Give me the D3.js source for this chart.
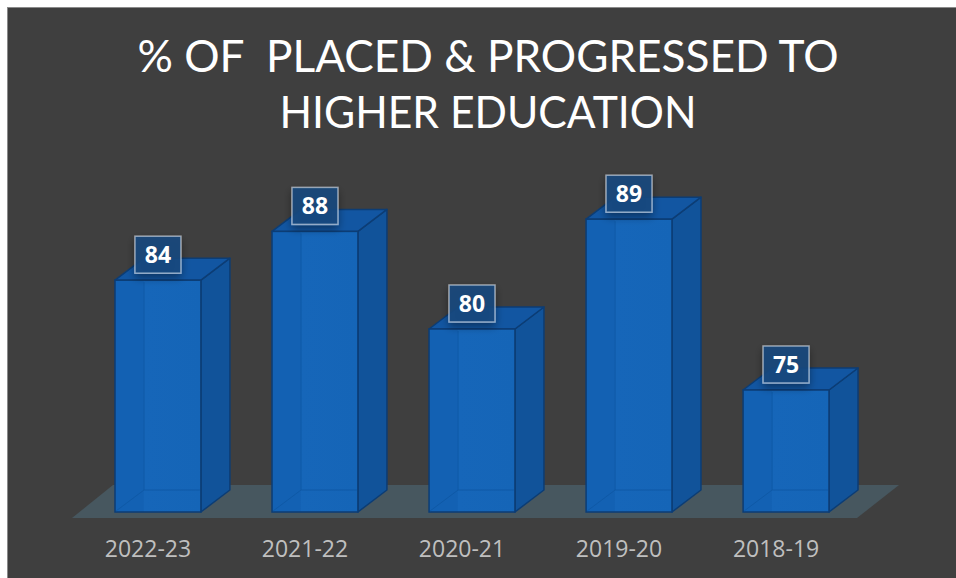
<!DOCTYPE html>
<html>
<head>
<meta charset="utf-8">
<script src="https://cdn.jsdelivr.net/npm/d3@7"></script>
<style>
  html, body { margin: 0; padding: 0; background: #fff; }
  svg { display: block; }
</style>
</head>
<body>
<svg width="956" height="578"></svg>
<script>
const years = ['2022-23', '2021-22', '2020-21', '2019-20', '2018-19'];
const percents = [84, 88, 80, 89, 75];
const titleLines = ['% OF  PLACED & PROGRESSED TO', 'HIGHER EDUCATION'];

const svg = d3.select('svg');
const width = +svg.attr('width');
const height = +svg.attr('height');

// 3d depth of the bars
const dx = 29;
const dy = -22;

// background panel
svg.append('rect')
    .attr('x', 7.5).attr('y', 7.5)
    .attr('width', width - 7).attr('height', height - 7)
    .attr('fill', '#3f3f3f')
    .attr('stroke', '#8a8a8a')
    .attr('stroke-width', 1);

// TITLE
svg.append('g')
    .selectAll('text')
    .data(titleLines)
    .join('text')
        .attr('x', 488)
        .attr('y', (d, i) => i === 0 ? 72 : 127.5)
        .attr('text-anchor', 'middle')
        .attr('textLength', (d, i) => i === 0 ? 701 : 417)
        .attr('lengthAdjust', 'spacingAndGlyphs')
        .style('white-space', 'pre')
        .attr('fill', '#ffffff')
        .attr('font-family', 'Lato, "Open Sans", sans-serif')
        .attr('font-size', 45)
        .text(d => d);

// SCALES
const x = d3.scaleBand()
    .domain(years)
    .range([115, 829])
    .paddingInner(0.453)
    .paddingOuter(0);
const y = d3.scaleLinear()
    .domain([65, 90])
    .range([512, 207]);

const base = y.range()[0];
const [x0, x1] = x.range();

// FLOOR
const floorPts = [
    [x0 - 43, base + 6],
    [x1 + 28, base + 6],
    [x1 + 70, base - 27],
    [x0 - 2, base - 27],
];
svg.append('polygon')
    .attr('points', floorPts.map(p => p.join(',')).join(' '))
    .attr('fill', '#47575f');

// gradient for front faces
const defs = svg.append('defs');
const grad = defs.append('linearGradient').attr('id', 'front')
    .attr('x1', 0).attr('x2', 1).attr('y1', 0).attr('y2', 0);
grad.append('stop').attr('offset', '0%').attr('stop-color', '#1361b3');
grad.append('stop').attr('offset', '33%').attr('stop-color', '#1361b3');
grad.append('stop').attr('offset', '34%').attr('stop-color', '#1666b9');
grad.append('stop').attr('offset', '100%').attr('stop-color', '#1565b7');

const shadow = defs.append('filter').attr('id', 'shadow')
    .attr('x', '-30%').attr('y', '-30%').attr('width', '160%').attr('height', '180%');
shadow.append('feGaussianBlur').attr('in', 'SourceAlpha').attr('stdDeviation', 4);
shadow.append('feOffset').attr('dx', 0).attr('dy', 4).attr('result', 'b');
shadow.append('feComponentTransfer').append('feFuncA').attr('type', 'linear').attr('slope', 0.45);
const merge = shadow.append('feMerge');
merge.append('feMergeNode');
merge.append('feMergeNode').attr('in', 'SourceGraphic');

// BARS
const bars = svg.append('g')
    .selectAll('g')
    .data(years.map((yr, i) => ({ yr, v: percents[i] })))
    .join('g');

const bw = x.bandwidth();
const edge = '#0c3d75';

// right side
bars.append('path')
    .attr('d', d => {
        const r = x(d.yr) + bw, t = y(d.v);
        return `M${r},${t} L${r + dx},${t + dy} L${r + dx},${base + dy} L${r},${base} Z`;
    })
    .attr('fill', '#11539a')
    .attr('stroke', edge)
    .attr('stroke-width', 1.5)
    .attr('stroke-linejoin', 'round');

// top
bars.append('path')
    .attr('d', d => {
        const l = x(d.yr), t = y(d.v);
        return `M${l},${t} L${l + dx},${t + dy} L${l + bw + dx},${t + dy} L${l + bw},${t} Z`;
    })
    .attr('fill', '#1256a2')
    .attr('stroke', edge)
    .attr('stroke-width', 1.5)
    .attr('stroke-linejoin', 'round');

// front
bars.append('rect')
    .attr('x', d => x(d.yr))
    .attr('y', d => y(d.v))
    .attr('width', bw)
    .attr('height', d => base - y(d.v))
    .attr('fill', 'url(#front)')
    .attr('stroke', edge)
    .attr('stroke-width', 1.5);

// faint hidden edges seen through the front
bars.append('path')
    .attr('d', d => {
        const l = x(d.yr), t = y(d.v);
        return `M${l + 1},${base - 1} L${l + dx},${base + dy} L${l + bw - 1},${base + dy}` +
               ` M${l + dx},${base + dy} L${l + dx},${t + 2}`;
    })
    .attr('fill', 'none')
    .attr('stroke', '#0f59a6')
    .attr('stroke-width', 1);

// DATA LABELS
const labels = svg.append('g')
    .selectAll('g')
    .data(years.map((yr, i) => ({ yr, v: percents[i] })))
    .join('g')
        .attr('transform', d => `translate(${x(d.yr) + bw / 2}, ${y(d.v) - 25.5})`);

labels.append('rect')
    .attr('x', -23).attr('y', -18.5)
    .attr('width', 46).attr('height', 37)
    .attr('fill', 'rgba(22, 74, 128, 0.88)')
    .attr('stroke', 'rgba(225, 230, 240, 0.6)')
    .attr('stroke-width', 1.5)
    .attr('filter', 'url(#shadow)');

labels.append('text')
    .attr('text-anchor', 'middle')
    .attr('y', 8.5)
    .attr('fill', '#ffffff')
    .attr('font-family', '"Noto Sans", "Open Sans", sans-serif')
    .attr('font-weight', 'bold')
    .attr('font-size', 23)
    .text(d => d.v);

// X AXIS LABELS
svg.append('g')
    .selectAll('text')
    .data(years)
    .join('text')
        .attr('x', d => x(d) + bw / 2 - 10)
        .attr('y', 557)
        .attr('text-anchor', 'middle')
        .attr('fill', '#bfbfbf')
        .attr('font-family', '"Open Sans", Lato, sans-serif')
        .attr('font-size', 23)
        .text(d => d);
</script>
</body>
</html>
